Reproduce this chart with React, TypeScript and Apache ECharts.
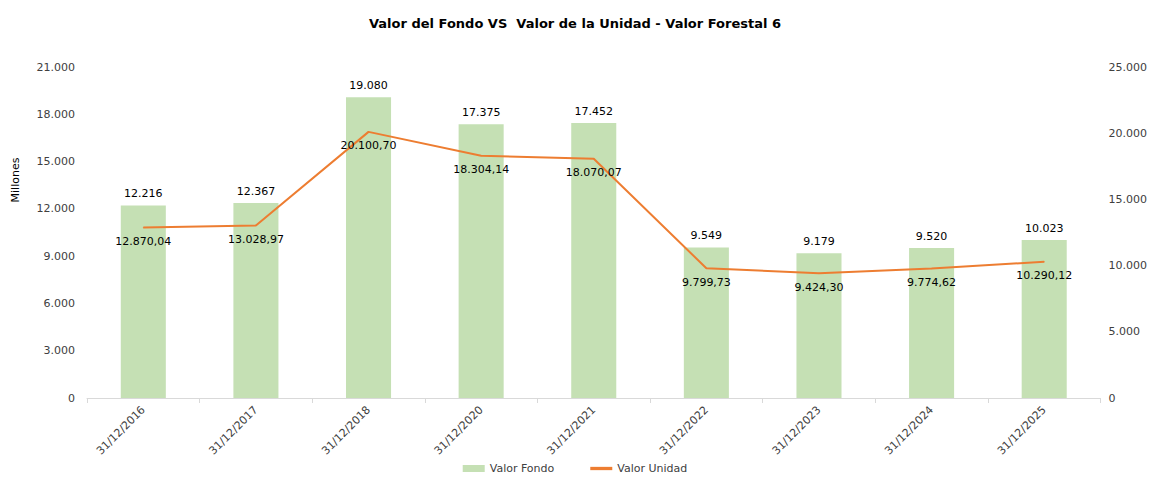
import React, { useEffect, useRef } from "react";
import * as echarts from "echarts";

const categories = ["31/12/2016", "31/12/2017", "31/12/2018", "31/12/2020", "31/12/2021", "31/12/2022", "31/12/2023", "31/12/2024", "31/12/2025"];
const valorFondo = [12216, 12367, 19080, 17375, 17452, 9549, 9179, 9520, 10023];
const valorUnidad = [12870.04, 13028.97, 20100.7, 18304.14, 18070.07, 9799.73, 9424.3, 9774.62, 10290.12];

const FONT = "DejaVu Sans";

function fmt(v: number, dec: number): string {
  const fixed = v.toFixed(dec);
  const [intPart, decPart] = fixed.split(".");
  const withDots = intPart.replace(/\B(?=(\d{3})+(?!\d))/g, ".");
  return decPart ? withDots + "," + decPart : withDots;
}

export default function App() {
  const ref = useRef<HTMLDivElement>(null);
  useEffect(() => {
    if (!ref.current) return;
    const chart = echarts.init(ref.current, undefined, { renderer: "svg" });
    chart.setOption({
      animation: false,
      backgroundColor: "#ffffff",
      textStyle: { fontFamily: FONT },
      title: {
        text: "Valor del Fondo VS  Valor de la Unidad - Valor Forestal 6",
        left: "center",
        top: 12,
        textStyle: { fontFamily: FONT, fontSize: 13, fontWeight: "bold", color: "#000000" },
      },
      graphic: [
        {
          type: "text",
          x: 15,
          y: 180,
          rotation: Math.PI / 2,
          style: {
            text: "Millones",
            fontFamily: FONT,
            fontSize: 11,
            fill: "#000000",
            align: "center",
            verticalAlign: "middle",
          },
        },
      ],
      legend: {
        bottom: 3,
        padding: 0,
        left: "center",
        itemGap: 36,
        textStyle: { fontFamily: FONT, fontSize: 11, color: "#404040" },
        data: [
          { name: "Valor Fondo", icon: "rect", itemStyle: { color: "#C5E0B4" } },
          { name: "Valor Unidad", icon: "path://M0,0 L10,0 L10,1.5 L0,1.5 Z", itemStyle: { color: "#ED7D31", opacity: 1 } },
        ],
        itemWidth: 22,
        itemHeight: 7,
      },
      grid: { left: 87, right: 49, top: 67, bottom: 79, containLabel: false },
      xAxis: {
        type: "category",
        data: categories,
        axisLine: { show: true, lineStyle: { color: "#D9D9D9" } },
        axisTick: { show: true, alignWithLabel: false, length: 5, lineStyle: { color: "#D9D9D9" } },
        axisLabel: { rotate: 45, fontFamily: FONT, fontSize: 11, color: "#404040", margin: 10 },
      },
      yAxis: [
        {
          type: "value",
          min: 0,
          max: 21000,
          interval: 3000,
          axisLine: { show: false },
          axisTick: { show: false },
          splitLine: { show: false },
          axisLabel: { fontFamily: FONT, fontSize: 11, color: "#404040", margin: 12, formatter: (v: number) => fmt(v, 0) },
        },
        {
          type: "value",
          min: 0,
          max: 25000,
          interval: 5000,
          axisLine: { show: false },
          axisTick: { show: false },
          splitLine: { show: false },
          axisLabel: { fontFamily: FONT, fontSize: 11, color: "#404040", margin: 8, formatter: (v: number) => fmt(v, 0) },
        },
      ],
      series: [
        {
          name: "Valor Fondo",
          type: "bar",
          data: valorFondo,
          barWidth: "40%",
          itemStyle: { color: "#C5E0B4" },
          label: {
            show: true,
            position: "top",
            distance: 6,
            fontFamily: FONT,
            fontSize: 11,
            color: "#000000",
            formatter: (p: any) => fmt(p.value, 0),
          },
        },
        {
          name: "Valor Unidad",
          type: "line",
          yAxisIndex: 1,
          data: valorUnidad,
          symbol: "circle",
          symbolSize: 1,
          showSymbol: true,
          lineStyle: { color: "#ED7D31", width: 2 },
          itemStyle: { color: "#ED7D31" },
          label: {
            show: true,
            position: "bottom",
            distance: 8,
            fontFamily: FONT,
            fontSize: 11,
            color: "#000000",
            formatter: (p: any) => fmt(p.value, 2),
          },
        },
      ],
    });
    return () => chart.dispose();
  }, []);
  return <div ref={ref} style={{ position: "fixed", left: 0, top: 0, width: 1150, height: 477 }} />;
}
